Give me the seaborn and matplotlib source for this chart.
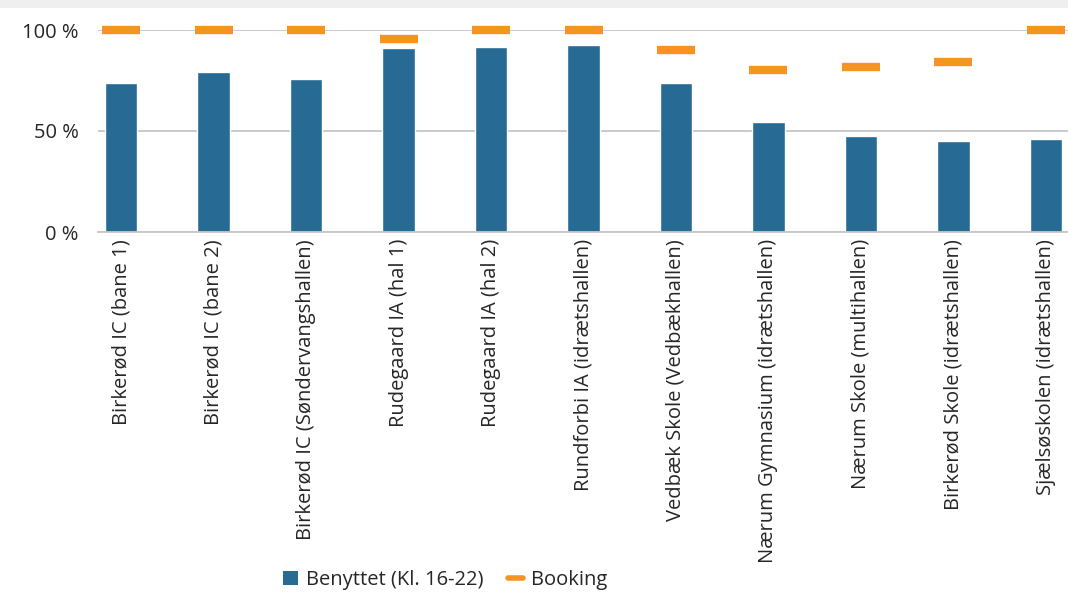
import matplotlib
import matplotlib.pyplot as plt
import pandas as pd
import seaborn as sns
from matplotlib.lines import Line2D
from matplotlib.patches import Patch, Rectangle

matplotlib.use("agg")

# Data
haller = [
    "Birkerød IC (bane 1)",
    "Birkerød IC (bane 2)",
    "Birkerød IC (Søndervangshallen)",
    "Rudegaard IA (hal 1)",
    "Rudegaard IA (hal 2)",
    "Rundforbi IA (idrætshallen)",
    "Vedbæk Skole (Vedbækhallen)",
    "Nærum Gymnasium (idrætshallen)",
    "Nærum Skole (multihallen)",
    "Birkerød Skole (idrætshallen)",
    "Sjælsøskolen (idrætshallen)",
]
benyttet = [74, 79, 75.7, 91, 91.6, 92.6, 73.8, 54.5, 47.5, 45, 46]
booking = [100, 100, 100, 95.3, 100, 100, 90.3, 80.2, 81.8, 84, 100]
y_ticks = [0, 50, 100]

BLUE = "#276a93"
ORANGE = "#f7941d"
GRID = "#c6c6c6"
TEXT = "#262626"
FS = 14.5

sns.set_theme(style="white")
plt.rcParams["font.family"] = ["Open Sans", "DejaVu Sans"]

df = pd.DataFrame({"hal": haller, "benyttet": benyttet, "booking": booking})

fig = plt.figure(figsize=(10.68, 6.0), dpi=100)
W, H = 1068, 600
ax = fig.add_axes([98 / W, (H - 232) / H, (1069 - 98) / W, 202 / H])

sns.barplot(data=df, x="hal", y="benyttet", color=BLUE, width=0.35,
            saturation=1, ax=ax, zorder=2)
ax.plot(range(len(df)), df["booking"], ls="none", marker="_", ms=27.5,
        mew=6, color=ORANGE, clip_on=False, zorder=3)

ax.set_xlim(-0.25, 10.25)
ax.set_ylim(0, 100)
ax.set_yticks(y_ticks)
ax.set_yticklabels([f"{t} %" for t in y_ticks], fontsize=FS, color=TEXT)
ax.yaxis.grid(True, color=GRID, lw=1.3)
ax.set_axisbelow(True)
ax.tick_params(axis="y", length=0, pad=14)
ax.tick_params(axis="x", length=0, pad=5)
ax.set_xticks(range(len(haller)))
ax.set_xticklabels(haller, rotation=90, fontsize=FS, color=TEXT,
                   va="top", ha="center")
ax.set_xlabel("")
ax.set_ylabel("")
for side in ["left", "right", "top"]:
    ax.spines[side].set_visible(False)
ax.spines["bottom"].set_color(GRID)
ax.spines["bottom"].set_linewidth(1.3)

handles = [
    Patch(facecolor=BLUE, edgecolor="none"),
    Line2D([], [], color=ORANGE, lw=4),
]
fig.legend(handles, ["Benyttet (Kl. 16-22)", "Booking"], loc="center",
           bbox_to_anchor=(445 / W, 20 / H), ncol=2, frameon=False,
           fontsize=FS, handlelength=0.75, handleheight=0.75,
           handletextpad=0.4, columnspacing=1.2, labelcolor=TEXT)

# light screenshot frame at the top edge
fig.patches.append(Rectangle((0, (H - 8) / H), 1, 8 / H, transform=fig.transFigure,
                             facecolor="#efefef", edgecolor="none", zorder=0))

fig.savefig("out.png", dpi=100)
